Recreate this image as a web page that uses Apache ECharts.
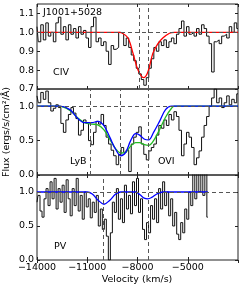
<!DOCTYPE html>
<html><head><meta charset="utf-8">
<script src="https://cdn.jsdelivr.net/npm/echarts@6/dist/echarts.min.js"></script>
<style>html,body{margin:0;padding:0;background:#fff}#c{width:243px;height:290px}</style>
</head><body><div id="c"></div>
<script>
// velocity grids (km/s)
const velStart = -14000;
const velStep12 = 150;   // panels CIV and LyB/OVI
const velStep3 = 120;    // panel PV
const xTicks = [-14000, -11000, -8000, -5000];

// Panel 1: C IV normalized flux
const civFlux = [1.03,0.95,1.04,0.96,1.05,0.98,1.0,0.95,1.05,1.08,0.99,1.03,0.96,1.04,0.99,1.02,0.97,1.03,0.99,1.01,
0.97,0.92,1.03,1.08,0.95,0.97,0.93,0.95,0.90,0.83,0.93,0.91,0.92,1.0,0.99,0.93,0.97,0.92,0.88,0.85,
0.81,0.78,0.75,0.72,0.76,0.81,0.86,0.92,0.90,0.95,0.93,0.96,0.92,0.95,0.97,0.94,0.99,1.02,1.06,0.98,
1.03,0.99,1.0,0.98,1.02,0.99,1.04,1.02,0.98,0.94,0.79,0.95,0.96,0.94,0.98,0.99,0.97,1.03,1.0,1.05,1.02];
const civModelVel  = [-14000,-9100,-8960,-8570,-8270,-7970,-7640,-7380,-7080,-6780,-6490,-6090,-5800,-2000];
const civModelFlux = [1,1,0.998,0.97,0.89,0.80,0.76,0.79,0.89,0.94,0.97,0.995,1,1];
const civLines = [-7880, -7380];

// Panel 2: Ly-beta / O VI
const oviFlux = [1.15,1.05,1.2,1.1,1.22,1.05,0.93,0.97,1.02,0.98,0.75,0.62,0.8,0.88,0.98,0.9,0.82,0.58,0.65,0.8,
0.75,0.5,0.44,0.62,0.78,0.74,0.88,0.72,0.55,0.45,0.36,0.28,0.15,0.3,0.4,0.33,0.36,0.05,0.45,0.55,
0.62,0.7,0.45,0.3,0.22,0.35,0.4,0.45,0.58,0.72,0.68,0.8,0.72,0.88,0.8,0.92,0.85,0.65,0.28,0.45,
0.62,0.55,0.4,0.15,0.25,0.35,0.55,0.72,0.85,1.0,1.12,1.25,1.05,1.12,0.98,1.05,1.15,1.02,1.1,1.05,1.18];
const oviBlueVel  = [-14000,-12632,-12037,-11561,-11145,-10728,-10371,-10014,-9657,-9300,-9003,-8706,-8408,-8111,-7873,-7576,-7338,-7040,-6683,-6326,-5969,-2000];
const oviBlueFlux = [1,1,0.95,0.82,0.76,0.76,0.78,0.72,0.55,0.37,0.28,0.33,0.50,0.60,0.58,0.52,0.51,0.62,0.78,0.95,1,1];
const oviGreenVel  = [-14000,-12750,-12037,-11561,-11145,-10728,-10371,-10014,-9657,-9300,-9003,-8706,-8408,-8111,-7873,-7576,-7338,-7040,-6683,-6326,-5969,-5800,-2000];
const oviGreenFlux = [1,1,0.94,0.83,0.76,0.74,0.73,0.66,0.52,0.38,0.32,0.33,0.42,0.47,0.47,0.44,0.43,0.50,0.66,0.84,0.97,1,1];
const oviLines = [-10800, -9030, -7380];

// Panel 3: P V
const pvFlux = [0.85,0.95,0.72,0.63,0.9,1.05,0.8,1.15,0.9,1.2,0.75,1.05,0.85,1.1,0.7,1.18,0.9,0.65,1.05,0.8,
1.2,0.72,0.95,0.6,1.0,0.78,0.9,0.62,0.85,0.7,0.95,0.5,0.75,0.45,0.6,0.35,0.0,0.4,0.85,0.7,
1.05,0.6,0.9,0.55,1.1,0.75,0.95,0.68,1.15,0.8,1.2,0.7,0.9,0.45,0.3,0.55,0.4,0.8,0.6,0.9,
0.55,1.05,0.75,1.15,0.8,1.0,0.65,0.9,0.5,0.7,0.38,0.3,0.55,0.4,0.75,0.6,1.0,0.8,1.3,0.9,
1.35,1.0,1.4,0.95,1.3,0.63];
const pvModelVel  = [-14000,-11000,-10700,-10350,-10000,-9650,-9300,-9000,-8100,-7850,-7600,-7380,-7150,-6850,-6500,-3800];
const pvModelFlux = [1,1,0.97,0.88,0.82,0.88,0.97,1,1,0.96,0.91,0.90,0.92,0.97,1,1];
const pvLines = [-10040, -7380];

const FONT = 'DejaVu Sans';
const toPairs = (step, arr) => arr.map((f, i) => [velStart + step * i, f]);
const zip = (a, b) => a.map((v, i) => [v, b[i]]);

const grids = [
  {left: 37, top: 4, width: 201, height: 85},
  {left: 37, top: 89, width: 201, height: 86},
  {left: 37, top: 175, width: 201, height: 85}
].map(g => Object.assign(g, {show: true, borderColor: '#222', borderWidth: 1, backgroundColor: 'transparent'}));

const yRanges = [{min: 0.7, max: 1.15, interval: 0.1}, {min: 0, max: 1.25, interval: 0.5}, {min: 0, max: 1.25, interval: 0.5}];

const xAxes = [], yAxes = [];
for (let i = 0; i < 3; i++) {
  ['bottom', 'top'].forEach(pos => xAxes.push({
    gridIndex: i, type: 'value', position: pos, min: -14000, max: -2000, interval: 3000,
    axisLine: {show: false}, splitLine: {show: false},
    axisTick: {show: true, inside: true, length: 3, lineStyle: {color: '#222', width: 1}},
    axisLabel: {show: i === 2 && pos === 'bottom', showMaxLabel: false, margin: 3,
      fontFamily: FONT, fontSize: 9.5, color: '#000',
      formatter: v => (v < 0 ? '\u2212' + Math.abs(v) : '' + v)}
  }));
  ['left', 'right'].forEach(pos => yAxes.push(Object.assign({
    gridIndex: i, type: 'value', position: pos,
    axisLine: {show: false}, splitLine: {show: false},
    axisTick: {show: true, inside: true, length: 3, lineStyle: {color: '#222', width: 1}},
    axisLabel: {show: pos === 'left', showMaxLabel: false, margin: 3,
      fontFamily: FONT, fontSize: 9.5, color: '#000', formatter: v => v.toFixed(1)}
  }, yRanges[i])));
}

function dashLines(xs) {
  return {symbol: 'none', silent: true, animation: false,
    lineStyle: {type: [4, 3], color: '#555', width: 1}, label: {show: false},
    data: xs.map(x => ({xAxis: x})).concat([{yAxis: 1}])};
}
function dataSeries(i, data, lines) {
  return {type: 'line', xAxisIndex: 2 * i, yAxisIndex: 2 * i, data: data, step: 'middle',
    symbol: 'none', lineStyle: {color: '#111', width: 1}, animation: false, z: 2,
    markLine: dashLines(lines)};
}
function modelSeries(i, data, color) {
  return {type: 'line', xAxisIndex: 2 * i, yAxisIndex: 2 * i, data: data, smooth: 0.35,
    symbol: 'none', lineStyle: {color: color, width: 1.3}, animation: false, z: 3};
}

const series = [
  dataSeries(0, toPairs(velStep12, civFlux), civLines),
  modelSeries(0, zip(civModelVel, civModelFlux), '#ff0000'),
  dataSeries(1, toPairs(velStep12, oviFlux), oviLines),
  modelSeries(1, zip(oviGreenVel, oviGreenFlux), '#22bb22'),
  modelSeries(1, zip(oviBlueVel, oviBlueFlux), '#0000ff'),
  dataSeries(2, toPairs(velStep3, pvFlux), pvLines),
  modelSeries(2, zip(pvModelVel, pvModelFlux), '#0000ff')
];

const txt = (x, y, s, extra) => Object.assign({type: 'text', x: x, y: y, z: 10,
  style: Object.assign({text: s, fontFamily: FONT, fontSize: 9.5, fill: '#000', verticalAlign: 'middle'}, extra || {})});

const chart = echarts.init(document.getElementById('c'), null, {renderer: 'canvas'});
chart.setOption({
  animation: false,
  grid: grids, xAxis: xAxes, yAxis: yAxes, series: series,
  graphic: [
    txt(43, 13, 'J1001+5028'),
    txt(53, 73, 'CIV'),
    txt(70, 162, 'LyB'),
    txt(158, 162, 'OVI'),
    txt(54, 247, 'PV'),
    txt(137, 280, 'Velocity (km/s)', {align: 'center'}),
    {type: 'text', x: 7, y: 132, rotation: Math.PI / 2, z: 10,
      style: {text: 'Flux (ergs/s/cm\u00b2/\u00c5)', fontFamily: FONT, fontSize: 9.5, fill: '#000', align: 'center', verticalAlign: 'middle'}}
  ]
});
</script></body></html>
